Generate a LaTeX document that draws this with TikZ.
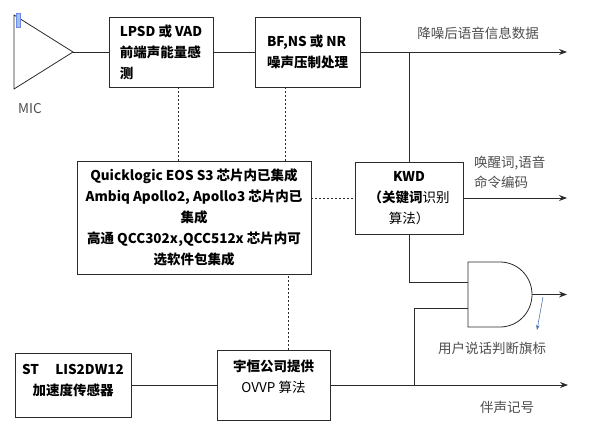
\documentclass[tikz,border=0pt]{standalone}
\usepackage{fontspec}
\setmainfont{Noto Sans CJK SC}
\usepackage{xcolor}
\usepackage{tikz}
\usetikzlibrary{positioning,calc,arrows.meta}
\definecolor{linegray}{HTML}{2B2B2B}
\definecolor{textgray}{HTML}{4D4D4D}
\definecolor{micblue}{HTML}{9DC3E6}
\definecolor{flagblue}{HTML}{4A6FB5}

\begin{document}
\begin{tikzpicture}[x=1pt, y=-1pt,
    box/.style={draw=linegray, line width=0.9pt, align=left, inner sep=0pt, font=\fontsize{13.5}{21}\selectfont\bfseries},
    lbl/.style={text=textgray, font=\fontsize{13.5}{20}\selectfont, inner sep=0pt},
    wire/.style={draw=linegray, line width=0.8pt},
    dashline/.style={draw=linegray, line width=0.8pt, dash pattern=on 2pt off 2pt},
    arrowline/.style={wire, -{Stealth[length=8pt, width=6pt]}}]
    \useasboundingbox (0,0) rectangle (615,442);

    \draw [wire] (14,15) -- (73,52) -- (14,89) -- cycle;
    \filldraw [fill=micblue, draw=micblue!70!blue, line width=0.5pt] (16,13) rectangle (20,27);
    \coordinate (mic) at (73,52);
    \node [lbl] (miclbl) at (30,109) {MIC};

    \node [box, minimum width=104pt, minimum height=70pt] (lpsd) at (161,52) {LPSD 或 VAD\\前端声能量感\\测};
    \node [box, minimum width=105pt, minimum height=70pt] (bfns) at (307.5,52) {BF,NS 或 NR\\噪声压制处理};
    \node [box, align=center, minimum width=234pt, minimum height=113pt] (chip) at (194,217.5) {Quicklogic EOS S3 芯片内已集成\\Ambiq Apollo2, Apollo3 芯片内已\\集成\\高通 QCC302x,QCC512x 芯片内可\\选软件包集成};
    \node [box, align=center, minimum width=108pt, minimum height=72pt] (kwd) at (409,198) {KWD\\（关键词{\mdseries 识别}\\{\mdseries 算法）}};
    \node [box, align=center, minimum width=116pt, minimum height=64pt, text depth=11pt] (st) at (73,385) {ST\hspace{1.2em}LIS2DW12\\加速度传感器};
    \node [box, align=center, minimum width=113pt, minimum height=70pt, text depth=18pt] (ovvp) at (273.5,385) {宇恒公司提供\\{\mdseries OVVP 算法}};

    \draw [wire] (468,262) -- (500,262) .. controls (517.7,262) and (532,276.5) .. (532,294.5) .. controls (532,312.5) and (517.7,327) .. (500,327) -- (468,327) -- cycle;
    \coordinate (andin1) at (468,282);
    \coordinate (andin2) at (468,308);
    \coordinate (andout) at (532,294.5);

    \coordinate (out1) at (567,52);
    \coordinate (out2) at (567,198);
    \coordinate (out3) at (567,294.5);
    \coordinate (out4) at (568,385);
    \coordinate (tap) at (414,385);
    \coordinate (flagtail) at (543,297);
    \coordinate (flagtip) at (537,330);

    \draw [wire] (mic) -- (lpsd.west);
    \draw [wire] (lpsd.east) -- (bfns.west);
    \draw [arrowline] (bfns.east) -- (out1);
    \draw [wire] (kwd.north |- out1) -- (kwd.north);
    \draw [arrowline] (kwd.east) -- (out2);
    \draw [wire] (kwd.south) |- (andin1);
    \draw [wire] (andin2) -| (tap);
    \draw [wire] (st.east) -- (ovvp.west);
    \draw [arrowline] (ovvp.east) -- (out4);
    \draw [arrowline] (andout) -- (out3);
    \draw [-{Stealth[length=5pt, width=3.5pt]}, draw=flagblue, fill=flagblue, line width=0.5pt] (flagtail) -- (flagtip);

    \draw [dashline] ([xshift=17pt]lpsd.south) -- ([xshift=17pt]lpsd.south |- chip.north);
    \draw [dashline] ([xshift=-22pt]bfns.south) -- ([xshift=-22pt]bfns.south |- chip.north);
    \draw [dashline] ([xshift=15pt]ovvp.north) -- ([xshift=15pt]ovvp.north |- chip.south);
    \draw [dashline] (chip.east |- kwd.west) -- (kwd.west);

    \node [lbl] (datalbl) at (478,33) {降噪后语音信息数据};
    \node [lbl, align=left, anchor=west] (wakelbl) at (474,172) {唤醒词,语音\\命令编码};
    \node [lbl] (flaglbl) at (492,348) {用户说话判断旗标};
    \node [lbl] (bglbl) at (507,407) {伴声记号};
\end{tikzpicture}
\end{document}
